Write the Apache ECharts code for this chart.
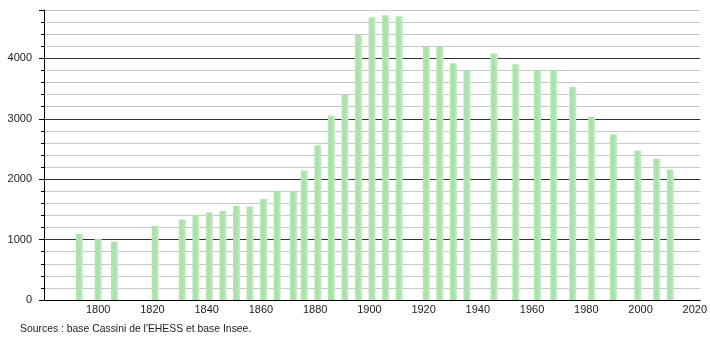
<!DOCTYPE html>
<html>
<head>
<meta charset="utf-8">
<script src="https://cdn.jsdelivr.net/npm/echarts@6/dist/echarts.min.js"></script>
<style>
html,body{margin:0;padding:0;background:#fff;}
#chart{width:710px;height:340px;}
</style>
</head>
<body>
<div id="chart"></div>
<script>
const years = [1793, 1800, 1806, 1821, 1831, 1836, 1841, 1846, 1851, 1856, 1861, 1866, 1872, 1876, 1881, 1886, 1891, 1896, 1901, 1906, 1911, 1921, 1926, 1931, 1936, 1946, 1954, 1962, 1968, 1975, 1982, 1990, 1999, 2006, 2011];
const population = [1094, 1012, 964, 1227, 1332, 1410, 1448, 1476, 1559, 1547, 1670, 1808, 1786, 2139, 2559, 3051, 3394, 4389, 4682, 4715, 4698, 4190, 4190, 3919, 3798, 4080, 3903, 3798, 3798, 3527, 3035, 2742, 2471, 2338, 2156];
const xTickLabels = [1800, 1820, 1840, 1860, 1880, 1900, 1920, 1940, 1960, 1980, 2000, 2020];
const yTickLabels = [0, 1000, 2000, 3000, 4000];
const sourceText = "Sources : base Cassini de l'EHESS et base Insee.";

const chart = echarts.init(document.getElementById('chart'), null, {renderer: 'canvas'});
const font = 'Liberation Sans, Arial, sans-serif';

chart.setOption({
  animation: false,
  backgroundColor: '#ffffff',
  grid: {left: 44, right: 9, top: 10, bottom: 40, containLabel: false},
  xAxis: {
    type: 'value', min: 1780, max: 2022, interval: 20,
    axisLine: {show: true, onZero: false, lineStyle: {color: '#000', width: 1}},
    axisTick: {show: false},
    splitLine: {show: false},
    axisLabel: {
      color: '#222', fontFamily: font, fontSize: 11, margin: 4,
      showMinLabel: true, showMaxLabel: true,
      formatter: v => xTickLabels.indexOf(v) >= 0 ? String(v) : ''
    }
  },
  yAxis: [
    {
      type: 'value', min: 0, max: 4800, interval: 200, position: 'left',
      axisLine: {show: true, lineStyle: {color: '#000', width: 1}},
      axisTick: {show: true, length: 3, lineStyle: {color: '#000'}},
      axisLabel: {show: false},
      splitLine: {show: true, lineStyle: {color: '#c8c8c8', width: 1}}
    },
    {
      type: 'value', min: 0, max: 4800, interval: 1000, position: 'left',
      axisLine: {show: false},
      axisTick: {show: true, length: 5, lineStyle: {color: '#000'}},
      axisLabel: {
        color: '#222', fontFamily: font, fontSize: 11, margin: 12,
        formatter: v => yTickLabels.indexOf(v) >= 0 ? String(v) : ''
      },
      splitLine: {show: true, showMinLine: false, showMaxLine: false, lineStyle: {color: '#333', width: 1}}
    }
  ],
  series: [{
    type: 'bar',
    xAxisIndex: 0, yAxisIndex: 0,
    barWidth: 7,
    data: years.map((y, i) => [y, population[i]]),
    itemStyle: {
      color: new echarts.graphic.LinearGradient(0, 0, 1, 0, [
        {offset: 0, color: '#b4e5b4'},
        {offset: 0.5, color: '#a9e0a9'},
        {offset: 1, color: '#c6edc6'}
      ])
    }
  }],
  graphic: [{
    type: 'text', left: 20, top: 324,
    style: {text: sourceText, font: '10.4px ' + font, fill: '#222'}
  }]
});
</script>
</body>
</html>
